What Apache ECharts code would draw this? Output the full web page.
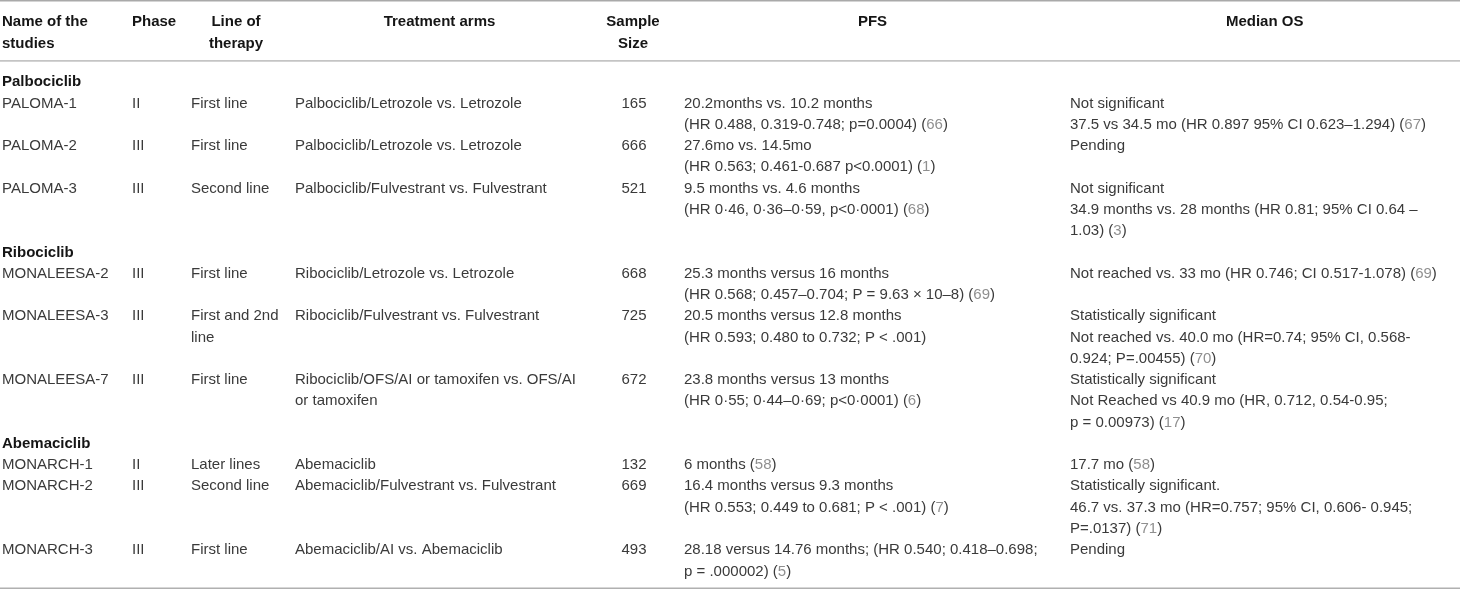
<!DOCTYPE html>
<html><head><meta charset="utf-8">
<script src="https://cdn.jsdelivr.net/npm/echarts@6/dist/echarts.min.js"></script>
<style>html,body{margin:0;padding:0;background:#fff}#c{width:1460px;height:589px}</style>
</head><body><div id="c"></div>
<script>
// ---------------- data ----------------
const headers = ["Name of the\nstudies", "Phase", "Line of\ntherapy", "Treatment arms", "Sample\nSize", "PFS", "Median OS"];
const groups = ["Palbociclib", "Ribociclib", "Abemaciclib"];
const studyGroup = [0, 0, 0, 1, 1, 1, 2, 2, 2];
const studies = ["PALOMA-1", "PALOMA-2", "PALOMA-3", "MONALEESA-2", "MONALEESA-3", "MONALEESA-7", "MONARCH-1", "MONARCH-2", "MONARCH-3"];
const phases = ["II", "III", "III", "III", "III", "III", "II", "III", "III"];
const therapyLines = ["First line", "First line", "Second line", "First line", "First and 2nd\nline", "First line", "Later lines", "Second line", "First line"];
const arms = [
  "Palbociclib/Letrozole vs. Letrozole",
  "Palbociclib/Letrozole vs. Letrozole",
  "Palbociclib/Fulvestrant vs. Fulvestrant",
  "Ribociclib/Letrozole vs. Letrozole",
  "Ribociclib/Fulvestrant vs. Fulvestrant",
  "Ribociclib/OFS/AI or tamoxifen vs. OFS/AI\nor tamoxifen",
  "Abemaciclib",
  "Abemaciclib/Fulvestrant vs. Fulvestrant",
  "Abemaciclib/AI vs. Abemaciclib"
];
const sampleSizes = [165, 666, 521, 668, 725, 672, 132, 669, 493];
const pfs = [
  "20.2months vs. 10.2 months\n(HR 0.488, 0.319-0.748; p=0.0004) (66)",
  "27.6mo vs. 14.5mo\n(HR 0.563; 0.461-0.687 p<0.0001) (1)",
  "9.5 months vs. 4.6 months\n(HR 0·46, 0·36–0·59, p<0·0001) (68)",
  "25.3 months versus 16 months\n(HR 0.568; 0.457–0.704; P = 9.63 × 10–8) (69)",
  "20.5 months versus 12.8 months\n(HR 0.593; 0.480 to 0.732; P < .001)",
  "23.8 months versus 13 months\n(HR 0·55; 0·44–0·69; p<0·0001) (6)",
  "6 months (58)",
  "16.4 months versus 9.3 months\n(HR 0.553; 0.449 to 0.681; P < .001) (7)",
  "28.18 versus 14.76 months; (HR 0.540; 0.418–0.698;\np = .000002) (5)"
];
const medianOS = [
  "Not significant\n37.5 vs 34.5 mo (HR 0.897 95% CI 0.623–1.294) (67)",
  "Pending",
  "Not significant\n34.9 months vs. 28 months (HR 0.81; 95% CI 0.64 –\n1.03) (3)",
  "Not reached vs. 33 mo (HR 0.746; CI 0.517-1.078) (69)",
  "Statistically significant\nNot reached vs. 40.0 mo (HR=0.74; 95% CI, 0.568-\n0.924; P=.00455) (70)",
  "Statistically significant\nNot Reached vs 40.9 mo (HR, 0.712, 0.54-0.95;\np = 0.00973) (17)",
  "17.7 mo (58)",
  "Statistically significant.\n46.7 vs. 37.3 mo (HR=0.757; 95% CI, 0.606- 0.945;\nP=.0137) (71)",
  "Pending"
];

// ---------------- layout (styles / positions only) ----------------
const colX = [2, 132, 191, 295, 634, 684, 1070];           // body anchor x per column
const colAlign = ['left', 'left', 'left', 'left', 'center', 'left', 'left'];
const headX = [2, 132, 236, 439.5, 633, 872.5, 1264.7];
const headAlign = ['left', 'left', 'center', 'center', 'center', 'center', 'center'];
const LINE_PX = 21.27, FIRST_PX = 80.7, H = 589, TEXT_DY = 1.5;
const yMin = -FIRST_PX / LINE_PX, yMax = (H - FIRST_PX) / LINE_PX;
const toUnits = px => (px - FIRST_PX) / LINE_PX;

const FONT = '"Liberation Sans", Arial, Helvetica, sans-serif';
const BODY = '#3a3a3a', HEAD = '#151515', REF = '#8f8f8f';

// build cells
const cells = [];   // [x, lineIndex, text, kind, align]
headers.forEach((h, i) => cells.push([headX[i], toUnits(20.7), h, 'head', headAlign[i]]));
let line = 0, lastGroup = -1;
studies.forEach((s, i) => {
  if (studyGroup[i] !== lastGroup) {
    lastGroup = studyGroup[i];
    cells.push([colX[0], line, groups[lastGroup], 'group', 'left']);
    line += 1;
  }
  const row = [s, phases[i], therapyLines[i], arms[i], String(sampleSizes[i]), pfs[i], medianOS[i]];
  let n = 1;
  row.forEach((t, c) => {
    cells.push([colX[c], line, t, 'body', colAlign[c]]);
    n = Math.max(n, t.split('\n').length);
  });
  line += n;
});

const rules = [[toUnits(0.8), 1.6, '#a9a9a9'], [toUnits(60.8), 1.8, '#c4c4c4'], [toUnits(588.2), 1.6, '#b0b0b0']];

const markRefs = t => t.replace(/\((\d+)\)/g, '({r|$1})');

const chart = echarts.init(document.getElementById('c'), null, {renderer: 'canvas'});
chart.setOption({
  animation: false,
  grid: {left: 0, right: 0, top: 0, bottom: 0},
  xAxis: {type: 'value', min: 0, max: 1460, show: false},
  yAxis: {type: 'value', min: yMin, max: yMax, inverse: true, show: false},
  series: [
    {
      type: 'custom',
      data: rules,
      renderItem: (params, api) => {
        const y = api.coord([0, api.value(0)])[1];
        const x0 = api.coord([0, 0])[0], x1 = api.coord([1460, 0])[0];
        const r = rules[params.dataIndex];
        return {type: 'line', shape: {x1: x0, y1: y, x2: x1, y2: y}, style: {stroke: r[2], lineWidth: r[1]}};
      }
    },
    {
      type: 'custom',
      data: cells.map(c => [c[0], c[1]]),
      renderItem: (params, api) => {
        const c = cells[params.dataIndex];
        const p = api.coord([c[0], c[1]]);
        const isHead = c[3] === 'head', isGroup = c[3] === 'group';
        const lh = isHead ? 21.6 : LINE_PX;
        const fontStr = ((isHead || isGroup) ? 'bold ' : '') + '15px ' + FONT;
        const fill = (isHead || isGroup) ? HEAD : BODY;
        return {
          type: 'text',
          x: p[0], y: p[1] - lh / 2 + TEXT_DY,
          style: {
            text: markRefs(c[2]),
            font: fontStr,
            fill: fill,
            align: c[4],
            verticalAlign: 'top',
            lineHeight: lh,
            rich: {r: {font: '15px ' + FONT, fill: REF, lineHeight: lh}}
          }
        };
      }
    }
  ]
});
</script>
</body></html>
